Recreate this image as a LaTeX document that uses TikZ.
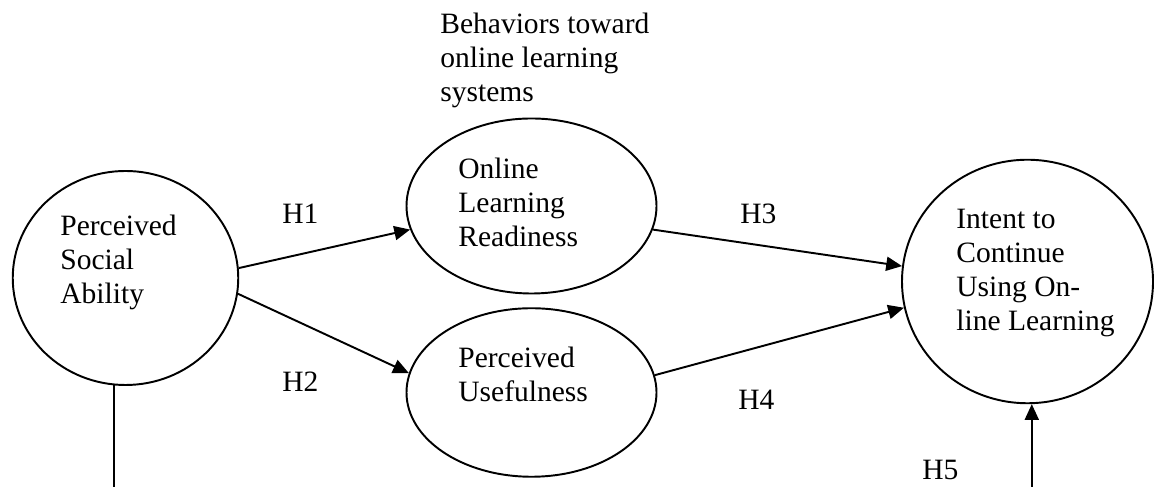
\documentclass[tikz,border=0pt]{standalone}
\usepackage{fontspec}
\setmainfont{Liberation Serif}
\usetikzlibrary{shapes.geometric,arrows.meta}

\begin{document}
\begin{tikzpicture}[
  oval/.style={draw, line width=1.1pt, ellipse, inner sep=0pt},
  txt/.style={anchor=base west, align=left, inner sep=0pt, font=\fontsize{16.8}{19.35}\selectfont},
  link/.style={line width=1.1pt, -{Triangle[length=9pt,width=8pt]}}]
\useasboundingbox (0,0) rectangle (23.1,9.74);

\node[oval, minimum width=4.51cm, minimum height=4.28cm] (psa) at (2.51,4.18) {};
\node[oval, minimum width=5cm, minimum height=3.5cm] (olr) at (10.63,5.62) {};
\node[oval, minimum width=5cm, minimum height=3.37cm] (pu) at (10.63,1.89) {};
\node[oval, minimum width=5.02cm, minimum height=4.87cm] (icu) at (20.55,4.11) {};

\node[txt] (psatext) at (1.2,3.66) {Perceived\\Social\\Ability};
\node[txt] (olrtext) at (9.16,4.8) {Online\\Learning\\Readiness};
\node[txt] (putext) at (9.16,1.7) {Perceived\\Usefulness};
\node[txt] (icutext) at (19.12,3.12) {Intent to\\Continue\\Using On-\\line Learning};
\node[txt] (behav) at (8.8,7.7) {Behaviors toward\\online learning\\systems};

\node[txt] (h1) at (5.64,5.26) {H1};
\node[txt] (h2) at (5.64,1.9) {H2};
\node[txt] (h3) at (14.8,5.26) {H3};
\node[txt] (h4) at (14.76,1.54) {H4};
\node[txt] (h5) at (18.44,0.14) {H5};

\coordinate (psafoot) at (psa.264 |- 0,0);
\coordinate (h5foot) at (icu.272.6 |- 0,0);

\draw[link] (psa.5.5) -- (olr.191);
\draw[link] (psa.352.3) -- (pu.171.1);
\draw[link] (olr.349.5) -- (icu.173.3);
\draw[link] (pu.8.8) -- (icu.192.7);
\draw[link] (h5foot) -- (icu.272.6);
\draw[line width=1.1pt] (psa.264) -- (psafoot);

\end{tikzpicture}
\end{document}
